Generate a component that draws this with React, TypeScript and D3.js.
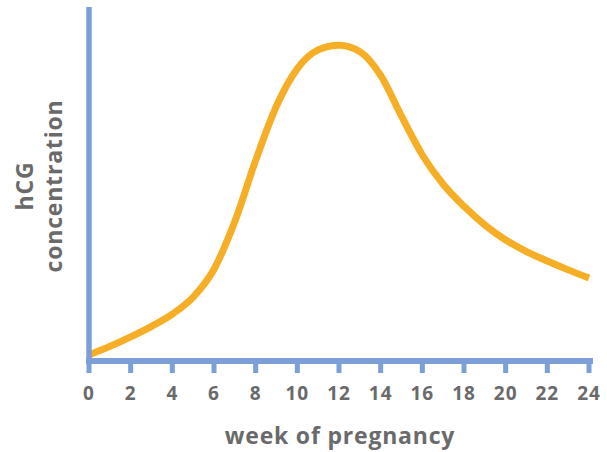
import { useMemo } from "react";
import * as d3 from "d3";

const WEEKS = [0, 1, 2, 3, 4, 5, 6, 7, 8, 9, 10, 11, 12, 13, 14, 15, 16, 17, 18, 19, 20, 21, 22, 23, 24];
const HCG = [1.8, 4.3, 7.1, 10.2, 13.8, 18.8, 27, 41, 59, 75, 86, 91.5, 92.9, 91, 84, 72, 60.6, 52, 45.5, 40, 35.6, 32.2, 29.4, 26.8, 24.4];
const X_TICKS = [0, 2, 4, 6, 8, 10, 12, 14, 16, 18, 20, 22, 24];

const AXIS_BLUE = "#7b9fd6";
const CURVE_ORANGE = "#f5ae25";
const TEXT_GRAY = "#6a6a6a";
const FONT = "'Open Sans', 'DejaVu Sans', sans-serif";

export default function App() {
  const width = 607;
  const height = 452;

  const xScale = d3.scaleLinear().domain([0, 24]).range([89, 589]);
  const yScale = d3.scaleLinear().domain([0, 100]).range([361, 21]);

  const path = useMemo(() => {
    const line = d3
      .line<number>()
      .x((_, i) => xScale(WEEKS[i]))
      .y((d) => yScale(d))
      .curve(d3.curveMonotoneX);
    return line(HCG) || "";
  }, []);

  const x0 = xScale(0);
  const y0 = yScale(0);

  return (
    <svg
      width={width}
      height={height}
      style={{ position: "absolute", left: 0, top: 0, background: "#fff" }}
    >
      {/* curve */}
      <path d={path} fill="none" stroke={CURVE_ORANGE} strokeWidth={7} />

      {/* y axis */}
      <line x1={x0} x2={x0} y1={7} y2={y0 + 2} stroke={AXIS_BLUE} strokeWidth={5.5} />

      {/* x axis */}
      <line x1={x0 - 3} x2={xScale(24) + 4} y1={y0} y2={y0} stroke={AXIS_BLUE} strokeWidth={6} />
      {X_TICKS.map((t) => (
        <g key={t} transform={`translate(${xScale(t)}, 0)`}>
          <line y1={y0} y2={y0 + 12} stroke={AXIS_BLUE} strokeWidth={5} />
          <text
            y={400}
            textAnchor="middle"
            fontFamily={FONT}
            fontWeight={700}
            fontSize={19}
            letterSpacing={1}
            fill={TEXT_GRAY}
          >
            {t}
          </text>
        </g>
      ))}

      <text
        x={340}
        y={444}
        textAnchor="middle"
        fontFamily={FONT}
        fontWeight={700}
        fontSize={23}
        letterSpacing={0.8}
        fill={TEXT_GRAY}
      >
        week of pregnancy
      </text>

      {/* y label */}
      <text
        transform="translate(33, 186) rotate(-90)"
        textAnchor="middle"
        fontFamily={FONT}
        fontWeight={700}
        fontSize={23}
        letterSpacing={0.8}
        fill={TEXT_GRAY}
      >
        hCG
      </text>
      <text
        transform="translate(62, 186) rotate(-90)"
        textAnchor="middle"
        fontFamily={FONT}
        fontWeight={700}
        fontSize={23}
        letterSpacing={0.8}
        fill={TEXT_GRAY}
      >
        concentration
      </text>
    </svg>
  );
}
